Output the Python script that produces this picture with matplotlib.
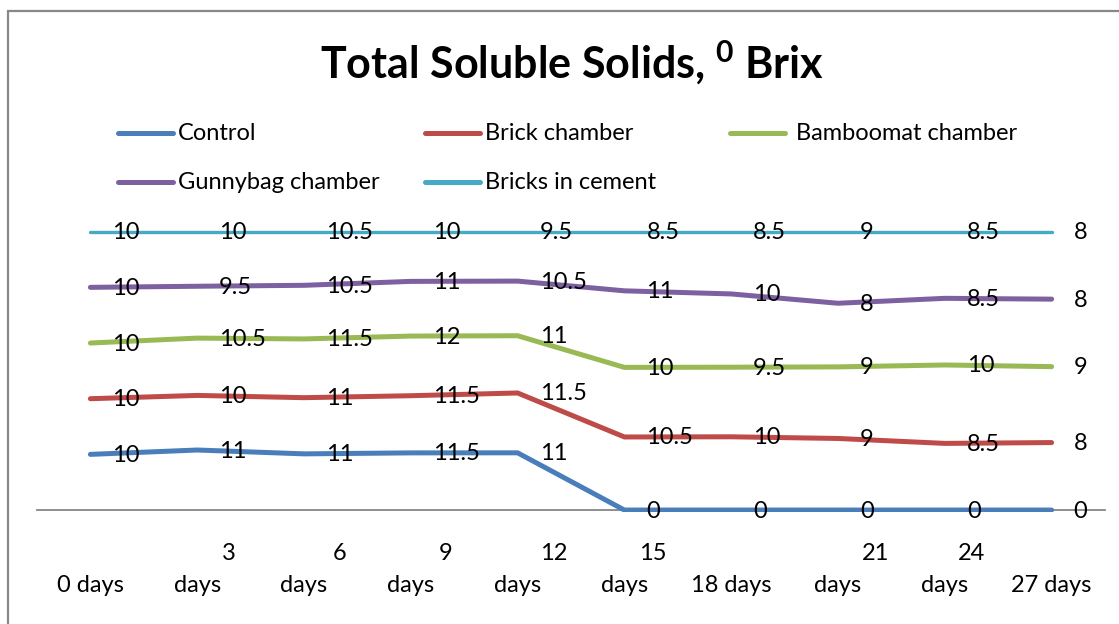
import numpy as np
import matplotlib
matplotlib.use("Agg")
import matplotlib.pyplot as plt
from matplotlib.lines import Line2D
from matplotlib.patches import Rectangle

plt.rcParams['font.family'] = ['Lato', 'DejaVu Sans']
plt.rcParams['mathtext.fontset'] = 'custom'
plt.rcParams['mathtext.rm'] = 'Lato:bold'
plt.rcParams['mathtext.bf'] = 'Lato:bold'

# data (values as labelled in the chart, 100% stacked)
days = ["0 days", "3\ndays", "6\ndays", "9\ndays", "12\ndays",
        "15\ndays", "18 days", "21\ndays", "24\ndays", "27 days"]
control = [10, 11, 11, 11.5, 11, 0, 0, 0, 0, 0]
brick = [10, 10, 11, 11.5, 11.5, 10.5, 10, 9, 8.5, 8]
bamboomat = [10, 10.5, 11.5, 12, 11, 10, 9.5, 9, 10, 9]
gunnybag = [10, 9.5, 10.5, 11, 10.5, 11, 10, 8, 8.5, 8]
cement = [10, 10, 10.5, 10, 9.5, 8.5, 8.5, 9, 8.5, 8]

names = ["Control", "Brick chamber", "Bamboomat chamber",
         "Gunnybag chamber", "Bricks in cement"]
colors = ["#4A7EBB", "#BE4B48", "#98B954", "#7D60A0", "#46AAC5"]
series = [control, brick, bamboomat, gunnybag, cement]

W, H = 1119, 624
fig = plt.figure(figsize=(W / 100, H / 100), dpi=100)

# outer border (only top and left visible)
fig.add_artist(Rectangle((8 / W, -0.2), 1.2, 1.2 - 11 / H,
                         transform=fig.transFigure, fill=False,
                         edgecolor="#888888", lw=1.6, clip_on=False))

# plot area: 0% at y=510px, 100% at y=232px
ax = fig.add_axes([37 / W, 1 - 512 / H, (1105 - 37) / W, (512 - 230) / H])
ax.set_xlim(-0.5, 9.5)
ax.set_ylim(-0.7, 100.6)

vals = np.array(series, dtype=float)
pct = np.cumsum(vals, axis=0) / vals.sum(axis=0) * 100
x = np.arange(len(days))

for s in range(len(series)):
    # top line sits on the plot-area edge in the original, so it looks thinner
    lw = 2.4 if s == len(series) - 1 else 3.6
    ax.plot(x, pct[s], color=colors[s], lw=lw, solid_capstyle='round',
            solid_joinstyle='round', zorder=3)
    for i in range(len(x)):
        v = series[s][i]
        ax.annotate(f"{v:g}", (x[i], pct[s][i]), xytext=(22, -1),
                    textcoords='offset pixels', ha='left', va='center',
                    fontsize=17, color='black', zorder=4,
                    annotation_clip=False)

for sp in ['top', 'right', 'left']:
    ax.spines[sp].set_visible(False)
ax.spines['bottom'].set_position(('data', 0))
ax.spines['bottom'].set_color('#868686')
ax.spines['bottom'].set_linewidth(1.3)
ax.spines['bottom'].set_zorder(2)
ax.set_xticks([])
ax.set_yticks([])

# category labels (Excel-wrapped)
top_shift = [0, 32, 36, 35, 36, 28, 0, 38, 27, 0]
for i, lab in enumerate(days):
    parts = lab.split("\n")
    xf = (37 + 106.8 * (i + 0.5)) / W
    fig.text(xf, 1 - 585 / H, parts[-1], ha='center', va='center', fontsize=17)
    if len(parts) > 1:
        fig.text(xf + top_shift[i] / W, 1 - 553 / H, parts[0],
                 ha='center', va='center', fontsize=17)

# title
fig.text(572 / W, 1 - 63 / H, r"Total Soluble Solids, $^{0}$ Brix",
         ha='center', va='center', fontsize=31, fontweight='bold')

# legend
leg_pos = [(118, 133), (425, 133), (730, 133), (118, 182), (425, 182)]
for k, (lx, ly) in enumerate(leg_pos):
    fig.add_artist(Line2D([lx / W, (lx + 55) / W], [1 - ly / H, 1 - ly / H],
                          color=colors[k], lw=3.6, solid_capstyle='round',
                          transform=fig.transFigure))
    fig.text((lx + 60 + (6 if k == 2 else 0)) / W, 1 - ly / H, names[k],
             ha='left', va='center', fontsize=17)

fig.savefig("out.png", dpi=100)
